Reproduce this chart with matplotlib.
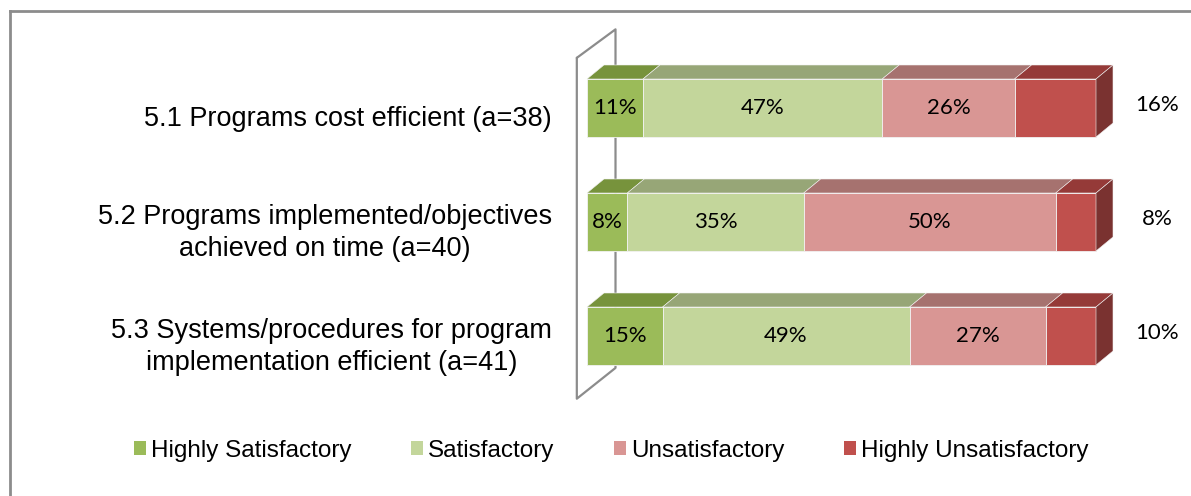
import numpy as np
import matplotlib
matplotlib.use("Agg")
from matplotlib import pyplot as plt
from matplotlib.patches import Polygon, Rectangle
from matplotlib.lines import Line2D

# data
categories = [
    "5.1 Programs cost efficient (a=38)",
    "5.2 Programs implemented/objectives\nachieved on time (a=40)",
    "5.3 Systems/procedures for program\nimplementation efficient (a=41)",
]
series = ["Highly Satisfactory", "Satisfactory", "Unsatisfactory", "Highly Unsatisfactory"]
highly_satisfactory = [11, 8, 15]
satisfactory = [47, 35, 49]
unsatisfactory = [26, 50, 27]
highly_unsatisfactory = [16, 8, 10]

front_colors = ["#9BBB59", "#C3D69B", "#D99694", "#C0504D"]
top_colors = ["#77933C", "#97A677", "#A6726F", "#953A38"]
side_color = "#7A3230"

W, H = 1191, 496
fig = plt.figure(figsize=(W / 100, H / 100), dpi=100)
ax = fig.add_axes([0, 0, 1, 1])

# map: 0% -> x px 587, 100% -> 1096 ; bar centres at y px 108 + 114*i
px_per_pct = 509 / 100
px_per_cat = 114
ax.set_xlim(-587 / px_per_pct, (W - 587) / px_per_pct)
ax.set_ylim((H - 108) / px_per_cat, -108 / px_per_cat)
ax.axis("off")

bar_h = 58 / px_per_cat
dx = 17 / px_per_pct
dy = -14 / px_per_cat

# back wall
wall_kw = dict(color="#8C8C8C", lw=1.6, zorder=1, solid_capstyle="round")
wx0, wx1 = -2.0, 5.6
ax.plot([wx0, wx0, wx1, wx1, wx0], [-0.44, 2.55, 2.28, -0.69, -0.44], **wall_kw)

values = np.array([highly_satisfactory, satisfactory, unsatisfactory, highly_unsatisfactory], dtype=float)
shares = values / values.sum(axis=0) * 100

lab_font = dict(family="Lato", fontsize=16, color="black")

for i in range(len(categories)):
    left = 0.0
    y0 = i - bar_h / 2
    for k in range(len(series)):
        w = shares[k, i]
        right = left + w
        front = Rectangle((left, y0), w, bar_h, facecolor=front_colors[k],
                          edgecolor="#F2F2F2", lw=0.6, zorder=3)
        ax.add_patch(front)
        top = Polygon([(left, y0), (right, y0), (right + dx, y0 + dy), (left + dx, y0 + dy)],
                      closed=True, facecolor=top_colors[k], edgecolor="#F2F2F2", lw=0.4, zorder=3)
        ax.add_patch(top)
        if k == len(series) - 1:
            side = Polygon([(right, y0), (right + dx, y0 + dy), (right + dx, y0 + bar_h + dy),
                            (right, y0 + bar_h)], closed=True, facecolor=side_color,
                           edgecolor="#F2F2F2", lw=0.4, zorder=3)
            ax.add_patch(side)
            ax.text(right + 12, i - 0.03, f"{values[k, i]:.0f}%", ha="center", va="center", **lab_font)
        else:
            ax.text((left + right) / 2, i, f"{values[k, i]:.0f}%", ha="center", va="center",
                    zorder=4, **lab_font)
        left = right

    ax.text(-35 / px_per_pct, i + 11 / px_per_cat, categories[i], ha="right", va="center",
            multialignment="center", family="Liberation Sans", fontsize=19.5, linespacing=1.25)

# outer frame (only top and left edges fall inside the picture)
fig.add_artist(Line2D([9.5 / W, 1], [1 - 10.5 / H, 1 - 10.5 / H], color="#8C8C8C", lw=2))
fig.add_artist(Line2D([9.5 / W, 9.5 / W], [0, 1 - 10.5 / H], color="#8C8C8C", lw=2))

handles = [Rectangle((0, 0), 1, 1, facecolor=c, edgecolor="none") for c in front_colors]
fig.legend(handles, series, loc="center", bbox_to_anchor=(611 / W, 1 - 451 / H), ncol=4,
           frameon=False, prop=dict(family="Liberation Sans", size=17.5),
           handlelength=0.5, handleheight=0.5, handletextpad=0.2, columnspacing=2.45)

fig.savefig("out.png", dpi=100)
